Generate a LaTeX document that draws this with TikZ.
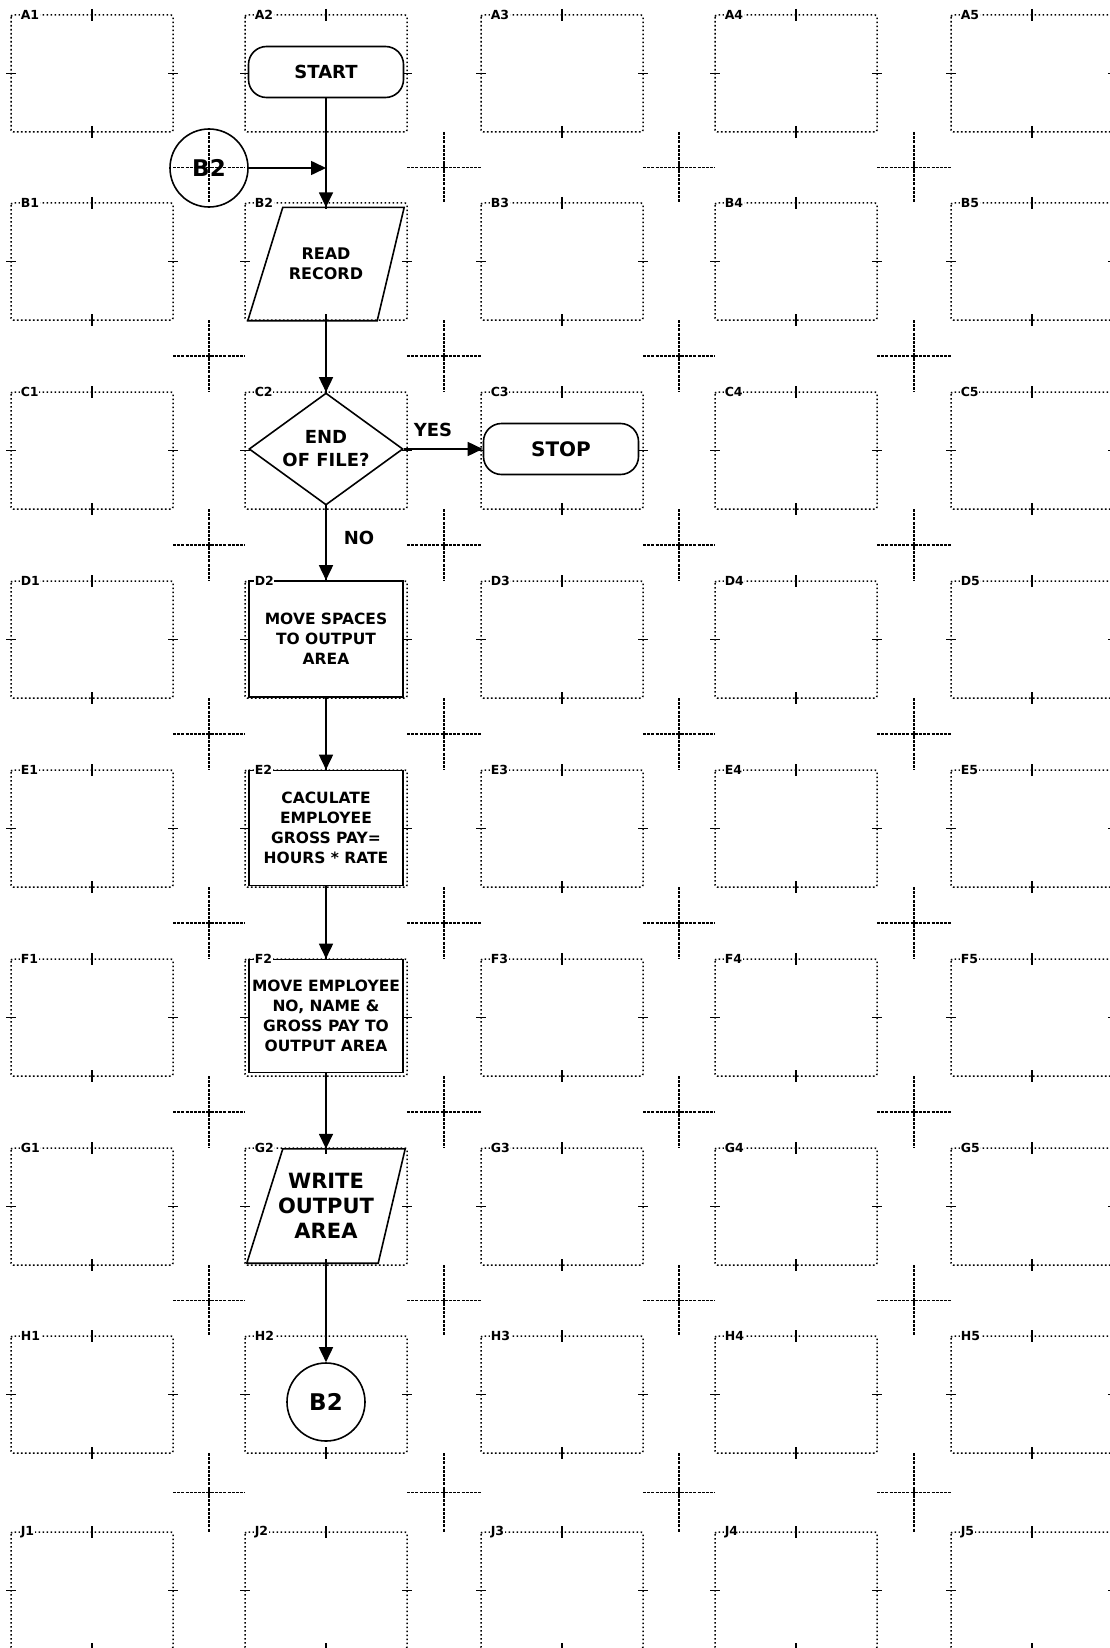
\documentclass[tikz,border=0pt]{standalone}
\usepackage{fontspec}
\setmainfont{DejaVu Sans}
\usetikzlibrary{arrows.meta,shapes.geometric,calc}
\begin{document}
\begin{tikzpicture}[x=1pt,y=-1pt,
  gridbox/.style={draw, line width=1.5pt, dash pattern=on 1.6pt off 2.4pt, rounded corners=2pt},
  gtick/.style={draw, line width=1.4pt},
  gcross/.style={draw, line width=1.3pt, dash pattern=on 3pt off 1.2pt},
  celllab/.style={fill=white, inner sep=0.6pt, anchor=west, font=\bfseries\fontsize{12.5}{13}\selectfont},
  shapeline/.style={draw, line width=1.6pt},
  termbox/.style={shapeline, fill=white, rectangle, rounded corners=18pt, minimum width=155pt, minimum height=51pt, inner sep=0pt},
  procbox/.style={shapeline, fill=white, rectangle, minimum width=154pt, inner sep=0pt, align=center, font=\bfseries\fontsize{15.5}{20}\selectfont},
  decbox/.style={shapeline, fill=white, diamond, minimum width=154pt, minimum height=112pt, inner sep=0pt, aspect=1.375, align=center, font=\bfseries\fontsize{18}{23}\selectfont},
  conbox/.style={shapeline, circle, minimum size=78pt, inner sep=0pt, font=\bfseries\fontsize{23}{23}\selectfont},
  iobox/.style={rectangle, minimum width=156pt, minimum height=113pt, inner sep=0pt},
  iotext/.style={align=center, inner sep=0pt},
  flow/.style={line width=1.6pt, -{Triangle[length=15pt,width=14pt]}},
  lbl/.style={font=\bfseries\fontsize{18}{18}\selectfont, inner sep=0pt},
]
\useasboundingbox (0,0) rectangle (1109,1648);

% grid of cells
\foreach \c/\x in {1/11,2/245,3/481,4/715,5/951}{
  \foreach \r/\y in {A/15,B/203,C/392,D/581,E/770,F/959,G/1148,H/1336,J/1532}{
    \draw[gridbox] (\x,\y) rectangle ++(162,117);
    \draw[gtick] (\x+81,\y-6) -- (\x+81,\y+6);
    \draw[gtick] (\x+81,\y+111) -- (\x+81,\y+123);
    \draw[gtick] (\x-5,\y+58.5) -- (\x+5,\y+58.5);
    \draw[gtick] (\x+157,\y+58.5) -- (\x+167,\y+58.5);
  }
}

% crosshairs in the gaps
\foreach \ya/\yb in {132/203,320/392,509/581,698/770,887/959,1076/1148,1265/1336,1453/1532}{
  \foreach \xa/\xb in {173/245,407/481,643/715,877/951}{
    \draw[gcross] (\xa,{(\ya+\yb)/2}) -- (\xb,{(\ya+\yb)/2});
    \draw[gcross] ({(\xa+\xb)/2},\ya) -- ({(\xa+\xb)/2},\yb);
    \draw[gtick, line width=1.1pt] ({(\xa+\xb)/2-3},{(\ya+\yb)/2}) -- ({(\xa+\xb)/2+3},{(\ya+\yb)/2});
    \draw[gtick, line width=1.1pt] ({(\xa+\xb)/2},{(\ya+\yb)/2-3}) -- ({(\xa+\xb)/2},{(\ya+\yb)/2+3});
  }
}

% flowchart
\node[termbox, font=\bfseries\fontsize{18}{18}\selectfont] (start) at (326,72) {START};
\node[conbox] (b2a) at (209,168) {B2};
\coordinate (join) at (326,168);

\node[iobox] (rr) at (326,264) {};
\draw[shapeline] ($(rr.north west)+(35,0)$) -- (rr.north east) -- ($(rr.south east)+(-27,0)$) -- (rr.south west) -- cycle;
\node[iotext, font=\bfseries\fontsize{16}{20}\selectfont] (rrtext) at (rr.center) {READ\\RECORD};

\node[decbox] (eof) at (326,449) {END\\OF FILE?};
\node[termbox, font=\bfseries\fontsize{20}{20}\selectfont] (stop) at (561,449) {STOP};

\node[procbox, minimum height=116pt] (d2) at (326,639) {MOVE SPACES\\TO OUTPUT\\AREA};
\node[procbox, minimum height=115pt] (e2) at (326,828) {CACULATE\\EMPLOYEE\\GROSS PAY=\\HOURS * RATE};
\node[procbox, minimum height=113pt] (f2) at (326,1016) {MOVE EMPLOYEE\\NO, NAME \&\\GROSS PAY TO\\OUTPUT AREA};

\node[iobox, minimum width=158pt, minimum height=114pt] (wo) at (326,1206) {};
\draw[shapeline] ($(wo.north west)+(36,0)$) -- (wo.north east) -- ($(wo.south east)+(-27,0)$) -- (wo.south west) -- cycle;
\node[iotext, font=\bfseries\fontsize{21}{25}\selectfont] (wotext) at (wo.center) {WRITE\\OUTPUT\\AREA};

\node[conbox] (b2b) at (326,1402) {B2};

% connectors
\draw[flow] (start.south) -- (rr.north);
\draw[flow] (b2a.east) -- (join);
\draw[flow] (rr.south) -- (eof.north);
\draw[flow] (eof.east) -- (stop.west);
\draw[flow] (eof.south) -- (d2.north);
\draw[flow] (d2.south) -- (e2.north);
\draw[flow] (e2.south) -- (f2.north);
\draw[flow] (f2.south) -- (wo.north);
\draw[flow] (wo.south) -- (b2b.north);

\node[lbl] (yes) at (433,430) {YES};
\node[lbl] (no) at (359,538) {NO};

% cell labels on top
\foreach \c/\x in {1/11,2/245,3/481,4/715,5/951}{
  \foreach \r/\y in {A/15,B/203,C/392,D/581,E/770,F/959,G/1148,H/1336,J/1532}{
    \node[celllab] (lab\r\c) at (\x+9,\y) {\r\c};
  }
}
\end{tikzpicture}
\end{document}
